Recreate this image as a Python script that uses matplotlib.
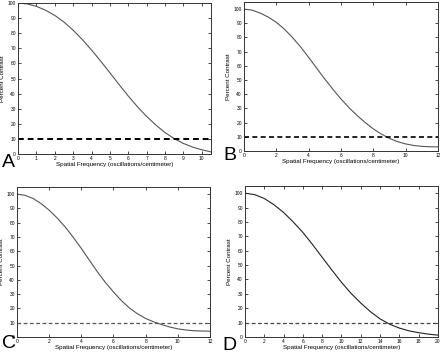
import numpy as np
import matplotlib
matplotlib.use('Agg')
import matplotlib.pyplot as plt

plt.rcParams['font.family'] = ['Liberation Sans', 'DejaVu Sans']

# curves (x in oscillations/cm, y in percent contrast)
a_x = [0, 0.5, 1, 1.5, 2, 2.5, 3, 3.5, 4, 4.5, 5, 5.5, 6, 6.5, 7, 7.5, 8, 8.5, 9, 9.5, 10, 10.5]
a_y = [100, 99.4, 97.8, 95.2, 91.8, 87.4, 82.0, 75.8, 68.9, 61.5, 53.8, 46.0, 38.4, 31.3, 24.9, 19.2,
       14.2, 10.2, 7.0, 4.6, 2.8, 1.4]

b_x = [0, 0.5, 1, 1.5, 2, 2.5, 3, 3.5, 4, 4.5, 5, 5.5, 6, 6.5, 7, 7.5, 8, 8.5, 9, 9.5, 10, 10.5, 11, 11.5, 12]
b_y = [100, 99.3, 97.2, 94.4, 90.7, 85.9, 80.0, 73.4, 66.0, 58.3, 50.7, 43.5, 36.7, 30.5, 25.0, 20.0,
       15.6, 11.9, 8.9, 6.6, 5.0, 3.9, 3.3, 3.0, 2.9]

c_x = [0, 0.5, 1, 1.5, 2, 2.5, 3, 3.5, 4, 4.5, 5, 5.5, 6, 6.5, 7, 7.5, 8, 8.5, 9, 9.5, 10, 10.5, 11, 11.5, 12]
c_y = [100, 99.2, 97.0, 93.4, 88.8, 83.3, 77.0, 69.8, 62.0, 53.8, 45.6, 38.2, 31.5, 25.4, 20.2, 16.2,
       13.0, 10.6, 8.7, 7.0, 5.7, 4.9, 4.4, 4.2, 4.1]

d_x = [0, 1, 2, 3, 4, 5, 6, 7, 8, 9, 10, 11, 12, 13, 14, 15, 16, 17, 18, 19, 20]
d_y = [100, 99.0, 96.3, 92.0, 86.6, 80.0, 72.7, 64.3, 55.4, 46.6, 38.0, 30.3, 23.6, 17.6, 12.6, 8.9,
       6.2, 4.3, 3.0, 2.0, 1.3]

threshold = 10

panels = [
    # letter, x, y, xlim, xticks, ylim, dash colour, dash width, curve colour
    ('A', a_x, a_y, 10.5, np.arange(0, 11, 1), 100, 'black', 1.4, '#555555'),
    ('B', b_x, b_y, 12, np.arange(0, 13, 2), 105, 'black', 1.2, '#555555'),
    ('C', c_x, c_y, 12, np.arange(0, 13, 2), 105, '#555555', 0.9, '#555555'),
    ('D', d_x, d_y, 20, np.arange(0, 21, 2), 105, '#444444', 0.9, '#222222'),
]

# axes rectangles in figure fractions
rects = [
    [0.0409, 0.5637, 0.4386, 0.4278],
    [0.5545, 0.5722, 0.4409, 0.4221],
    [0.0386, 0.0453, 0.4386, 0.4249],
    [0.5568, 0.0453, 0.4386, 0.4278],
]
letter_pos = [(0.004, 0.516), (0.507, 0.535), (0.004, 0.003), (0.505, -0.002)]

fig = plt.figure(figsize=(4.4, 3.53), dpi=100)

for (letter, xs, ys, xmax, xt, ymax, dcol, dlw, ccol), rect, lp in zip(panels, rects, letter_pos):
    ax = fig.add_axes(rect)
    ax.plot(xs, ys, color=ccol, lw=0.8)
    ax.axhline(threshold, color=dcol, lw=dlw, ls=(0, (3, 2)))
    ax.set_xlim(0, xmax)
    ax.set_ylim(0, ymax)
    ax.set_xticks(xt)
    ax.set_yticks(np.arange(0, 101, 10))
    ax.tick_params(direction='in', length=2, width=0.5, labelsize=3.5, pad=1.5,
                   top=True, right=True)
    for s in ax.spines.values():
        s.set_linewidth(0.7)
        s.set_color('#333333')
    ax.set_xlabel('Spatial Frequency (oscillations/centimeter)', fontsize=4.5, labelpad=1)
    ax.set_ylabel('Percent Contrast', fontsize=4.5, labelpad=2)
    fig.text(lp[0], lp[1], letter, fontsize=14, ha='left', va='bottom')

fig.savefig('out.png', dpi=100)
